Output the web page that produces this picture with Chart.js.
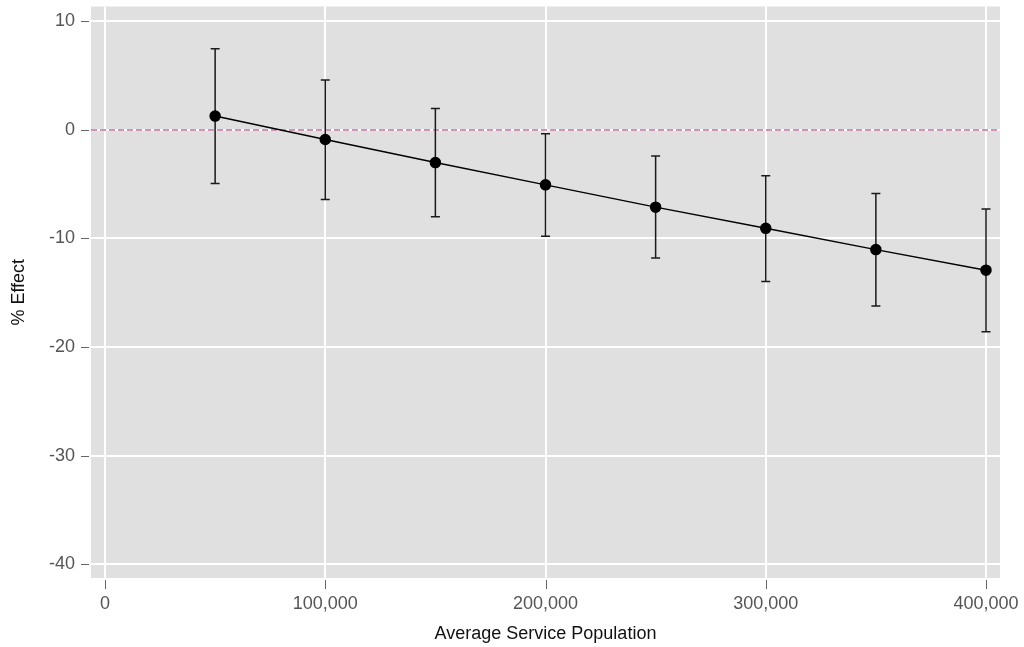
<!DOCTYPE html>
<html>
<head>
<meta charset="utf-8">
<script src="https://cdn.jsdelivr.net/npm/chart.js@4/dist/chart.umd.min.js"></script>
<style>
  html, body { margin: 0; padding: 0; background: #fff; }
  #wrap { width: 1024px; height: 647px; }
</style>
</head>
<body>
<div id="wrap"><canvas id="myChart"></canvas></div>
<script>
// service population and estimated % effect with 95% bounds
const populations = [50000, 100000, 150000, 200000, 250000, 300000, 350000, 400000];
const effects = [1.26, -0.89, -3.02, -5.07, -7.12, -9.07, -11.03, -12.92];
const upperBounds = [7.45, 4.58, 1.95, -0.37, -2.41, -4.22, -5.87, -7.3];
const lowerBounds = [-4.95, -6.42, -8.0, -9.81, -11.8, -13.96, -16.22, -18.58];

const xTicks = [0, 100000, 200000, 300000, 400000];
const yTicks = [10, 0, -10, -20, -30, -40];

const fontFamily = '"Liberation Sans", Arial, Helvetica, sans-serif';

// grey panel behind the plot
const panelBackground = {
    id: 'panelBackground',
    beforeDraw(chart) {
        const { ctx, chartArea } = chart;
        ctx.save();
        ctx.fillStyle = '#e0e0e0';
        ctx.fillRect(chartArea.left, chartArea.top, chartArea.right - chartArea.left, chartArea.bottom - chartArea.top);
        ctx.restore();
    }
};

// dashed reference line at zero, then the confidence intervals
const zeroAndErrors = {
    id: 'zeroAndErrors',
    beforeDatasetsDraw(chart) {
        const { ctx, chartArea, scales } = chart;
        const y0 = Math.round(scales.y.getPixelForValue(0));
        ctx.save();
        // white gap under the dashes, like the original
        ctx.strokeStyle = '#fff';
        ctx.lineWidth = 2;
        ctx.beginPath();
        ctx.moveTo(chartArea.left, y0);
        ctx.lineTo(chartArea.right, y0);
        ctx.stroke();
        ctx.strokeStyle = '#d093b6';
        ctx.lineWidth = 2;
        ctx.setLineDash([6, 3]);
        ctx.beginPath();
        ctx.moveTo(chartArea.left, y0);
        ctx.lineTo(chartArea.right, y0);
        ctx.stroke();
        ctx.setLineDash([]);

        ctx.strokeStyle = '#1a1a1a';
        ctx.lineWidth = 1.5;
        populations.forEach((p, i) => {
            const x = scales.x.getPixelForValue(p);
            const yHi = scales.y.getPixelForValue(upperBounds[i]);
            const yLo = scales.y.getPixelForValue(lowerBounds[i]);
            ctx.beginPath();
            ctx.moveTo(x, yHi);
            ctx.lineTo(x, yLo);
            ctx.moveTo(x - 4.5, yHi);
            ctx.lineTo(x + 4.5, yHi);
            ctx.moveTo(x - 4.5, yLo);
            ctx.lineTo(x + 4.5, yLo);
            ctx.stroke();
        });
        ctx.restore();
    }
};

// small tick marks sitting just outside the panel
const outerTicks = {
    id: 'outerTicks',
    afterDraw(chart) {
        const { ctx, chartArea, scales } = chart;
        ctx.save();
        ctx.strokeStyle = '#666';
        ctx.lineWidth = 1;
        ctx.beginPath();
        yTicks.forEach(v => {
            const y = Math.round(scales.y.getPixelForValue(v)) + 0.5;
            ctx.moveTo(chartArea.left - 10, y);
            ctx.lineTo(chartArea.left - 2, y);
        });
        xTicks.forEach(v => {
            const x = Math.round(scales.x.getPixelForValue(v)) + 0.5;
            ctx.moveTo(x, chartArea.bottom + 2);
            ctx.lineTo(x, chartArea.bottom + 11);
        });
        ctx.stroke();
        ctx.restore();
    }
};

// keep the panel where the original put it instead of the auto label padding
function fixBox(size) {
    return scale => {
        scale.paddingTop = 0;
        scale.paddingBottom = 0;
        scale.paddingLeft = 0;
        scale.paddingRight = 0;
        if (scale.isHorizontal()) scale.height = size;
        else scale.width = size;
    };
}

const ctx = document.getElementById('myChart');

new Chart(ctx, {
    type: 'scatter',
    data: {
        datasets: [{
            data: populations.map((p, i) => ({ x: p, y: effects[i] })),
            showLine: true,
            borderColor: '#000',
            borderWidth: 1.5,
            backgroundColor: '#000',
            pointRadius: 5,
            pointHoverRadius: 5
        }]
    },
    options: {
        responsive: true,
        maintainAspectRatio: false,
        animation: false,
        layout: { padding: { top: 4, left: 0, right: 24, bottom: 0 } },
        plugins: {
            legend: { display: false },
            tooltip: { enabled: false }
        },
        scales: {
            x: {
                type: 'linear',
                min: -6360,
                max: 406360,
                afterBuildTicks: scale => { scale.ticks = xTicks.map(v => ({ value: v })); },
                afterFit: fixBox(69),
                border: { display: false },
                grid: { color: '#fff', lineWidth: 2, drawTicks: false },
                ticks: {
                    padding: 15,
                    color: '#555',
                    font: { family: fontFamily, size: 18 },
                    callback: v => v.toLocaleString('en-US')
                },
                title: {
                    display: true,
                    text: 'Average Service Population',
                    color: '#111',
                    font: { family: fontFamily, size: 18 },
                    padding: { top: 0, bottom: 2 }
                }
            },
            y: {
                min: -41.26,
                max: 11.35,
                afterBuildTicks: scale => { scale.ticks = yTicks.map(v => ({ value: v })); },
                afterFit: fixBox(91),
                border: { display: false },
                grid: { color: '#fff', lineWidth: 2, drawTicks: false },
                ticks: {
                    padding: 16,
                    color: '#555',
                    font: { family: fontFamily, size: 18 }
                },
                title: {
                    display: true,
                    text: '% Effect',
                    color: '#111',
                    font: { family: fontFamily, size: 18 },
                    padding: { top: 8, bottom: 0 }
                }
            }
        }
    },
    plugins: [panelBackground, zeroAndErrors, outerTicks]
});
</script>
</body>
</html>
